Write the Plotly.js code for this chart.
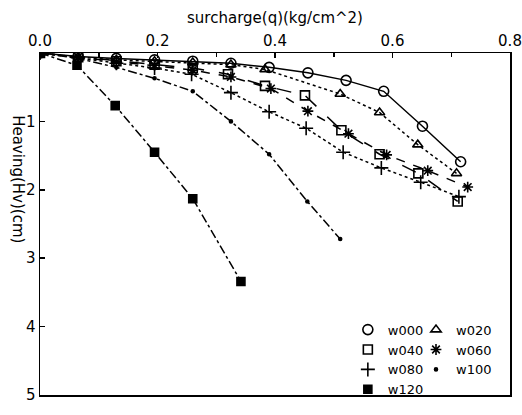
<!DOCTYPE html>
<html>
<head>
<meta charset="utf-8">
<script src="https://cdn.plot.ly/plotly-3.0.1.min.js"></script>
<style>html,body{margin:0;padding:0;background:#fff;}#chart{width:522px;height:415px;}</style>
</head>
<body>
<div id="chart"></div>
<script>
// Series names
const seriesNames = ["w000", "w020", "w040", "w060", "w080", "w100", "w120"];

// Surcharge q (kg/cm^2) and heaving Hv (cm) per series
const w000_q = [0, 0.065, 0.13, 0.195, 0.26, 0.325, 0.39, 0.456, 0.521, 0.585, 0.651, 0.716];
const w000_h = [0, 0.05, 0.08, 0.10, 0.12, 0.15, 0.21, 0.29, 0.40, 0.56, 1.07, 1.59];

const w020_q = [0, 0.065, 0.13, 0.195, 0.26, 0.325, 0.383, 0.511, 0.578, 0.643, 0.709];
const w020_h = [0, 0.06, 0.10, 0.12, 0.14, 0.17, 0.24, 0.60, 0.87, 1.34, 1.76];

const w040_q = [0, 0.065, 0.13, 0.195, 0.26, 0.32, 0.383, 0.451, 0.513, 0.578, 0.644, 0.711];
const w040_h = [0, 0.06, 0.12, 0.17, 0.22, 0.31, 0.48, 0.62, 1.13, 1.48, 1.76, 2.17];

const w060_q = [0, 0.065, 0.13, 0.195, 0.26, 0.325, 0.393, 0.456, 0.525, 0.59, 0.66, 0.728];
const w060_h = [0, 0.06, 0.13, 0.18, 0.25, 0.35, 0.52, 0.85, 1.18, 1.49, 1.72, 1.96];

const w080_q = [0, 0.065, 0.13, 0.195, 0.258, 0.325, 0.39, 0.453, 0.516, 0.581, 0.648, 0.713];
const w080_h = [0, 0.07, 0.15, 0.22, 0.31, 0.58, 0.86, 1.10, 1.45, 1.68, 1.89, 2.10];

const w100_q = [0, 0.065, 0.13, 0.195, 0.26, 0.325, 0.39, 0.455, 0.511];
const w100_h = [0, 0.08, 0.21, 0.37, 0.56, 1.00, 1.48, 2.17, 2.72];

const w120_q = [0, 0.063, 0.128, 0.195, 0.26, 0.342];
const w120_h = [0, 0.18, 0.77, 1.45, 2.13, 3.34];

// Axis ticks
const xTickVals = [0, 0.2, 0.4, 0.6, 0.8];
const xTickText = ["0.0", "0.2", "0.4", "0.6", "0.8"];
const yTickVals = [1, 2, 3, 4, 5];
const yTickText = ["1", "2", "3", "4", "5"];

const qs = [w000_q, w020_q, w040_q, w060_q, w080_q, w100_q, w120_q];
const hs = [w000_h, w020_h, w040_h, w060_h, w080_h, w100_h, w120_h];
const dashes = ["solid", "dot", "longdash", "dash", "dot", "dashdot", "dashdot"];
const symbols = ["circle-open", "triangle-up-open", "square-open", "asterisk-open", "cross-thin-open", "circle", "square"];
const sizes = [10, 9, 9, 9, 10, 3, 8];
const legendOf = ["legend", "legend2", "legend", "legend2", "legend", "legend2", "legend"];

const traces = [];
for (let i = 0; i < seriesNames.length; i++) {
  traces.push({
    x: qs[i], y: hs[i], mode: "lines", type: "scatter",
    line: {color: "black", width: 1.5, dash: dashes[i]},
    showlegend: false, hoverinfo: "skip"
  });
}
for (let i = 0; i < seriesNames.length; i++) {
  traces.push({
    x: qs[i], y: hs[i], mode: "markers", type: "scatter", name: seriesNames[i],
    legend: legendOf[i],
    marker: {symbol: symbols[i], size: sizes[i], color: "black", line: {color: "black", width: 1.6}}
  });
}

const fnt = {family: "DejaVu Sans, sans-serif", color: "black"};
const layout = {
  width: 522, height: 415,
  margin: {l: 40, r: 12, t: 53, b: 10},
  paper_bgcolor: "white", plot_bgcolor: "white",
  font: Object.assign({size: 15}, fnt),
  xaxis: {
    side: "top", range: [0, 0.8], tickvals: xTickVals, ticktext: xTickText,
    ticks: "inside", ticklen: 5, tickwidth: 1.5, tickcolor: "black",
    showline: true, linewidth: 1.5, linecolor: "black", mirror: true,
    showgrid: false, zeroline: false,
    tickfont: Object.assign({size: 15}, fnt),
    minor: {dtick: 0.1, tick0: 0, ticks: "inside", ticklen: 4, tickcolor: "black", showgrid: false},
    title: {text: "surcharge(q)(kg/cm^2)", font: Object.assign({size: 15}, fnt), standoff: 4}
  },
  yaxis: {
    range: [5, 0], tickvals: yTickVals, ticktext: yTickText,
    ticks: "inside", ticklen: 5, tickwidth: 1.5, tickcolor: "black",
    showline: true, linewidth: 1.5, linecolor: "black", mirror: true,
    showgrid: false, zeroline: false,
    tickfont: Object.assign({size: 15}, fnt)
  },
  legend: {x: 0.655, y: 0.235, xanchor: "left", yanchor: "top", bgcolor: "rgba(0,0,0,0)",
           borderwidth: 0, itemwidth: 30, font: Object.assign({size: 13}, fnt), tracegroupgap: 0},
  legend2: {x: 0.80, y: 0.235, xanchor: "left", yanchor: "top", bgcolor: "rgba(0,0,0,0)",
            borderwidth: 0, itemwidth: 30, font: Object.assign({size: 13}, fnt), tracegroupgap: 0},
  annotations: [{
    text: "Heaving(Hv)(cm)", textangle: 90, showarrow: false,
    xref: "paper", yref: "paper", x: -0.046, y: 0.63, xanchor: "center", yanchor: "middle",
    font: Object.assign({size: 15}, fnt)
  }]
};

Plotly.newPlot("chart", traces, layout, {staticPlot: true, displayModeBar: false});
</script>
</body>
</html>
